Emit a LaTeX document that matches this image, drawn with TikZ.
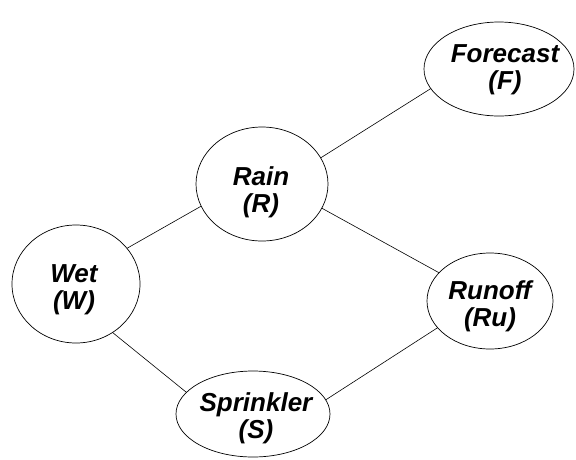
\documentclass[tikz,border=0pt]{standalone}
\usepackage{fontspec}
\setmainfont{Liberation Sans}
\usetikzlibrary{shapes.geometric}
\begin{document}
\begin{tikzpicture}[x=1pt,y=-1pt,
  bn/.style={ellipse,draw=black,line width=0.7pt,inner sep=0pt,outer sep=0pt},
  lbl/.style={inner sep=0pt,align=center,
    font=\fontsize{26}{27}\selectfont\bfseries\itshape},
  edge/.style={draw=black,line width=0.6pt}]
\useasboundingbox (0,0) rectangle (576,459);
\node[bn,minimum width=150pt,minimum height=94pt] (F) at (499,69) {};
\node[bn,minimum width=132pt,minimum height=114pt] (R) at (262,184) {};
\node[bn,minimum width=128pt,minimum height=118pt] (W) at (76,284) {};
\node[bn,minimum width=126pt,minimum height=96pt] (Ru) at (490,301) {};
\node[bn,minimum width=154pt,minimum height=86pt] (S) at (253,414) {};
\node[lbl] (Ft) at (505,70) {Forecast\\(F)};
\node[lbl] (Rt) at (261,192) {Rain\\(R)};
\node[lbl] (Wt) at (74,290) {Wet\\(W)};
\node[lbl] (Rut) at (490,306) {Runoff\\(Ru)};
\node[lbl] (St) at (256,418) {Sprinkler\\(S)};
\draw[edge] (R.24) -- (F.196);
\draw[edge] (R.200) -- (W.35);
\draw[edge] (R.-22) -- (Ru.151);
\draw[edge] (W.-53) -- (S.162);
\draw[edge] (S.11) -- (Ru.207);
\end{tikzpicture}
\end{document}
